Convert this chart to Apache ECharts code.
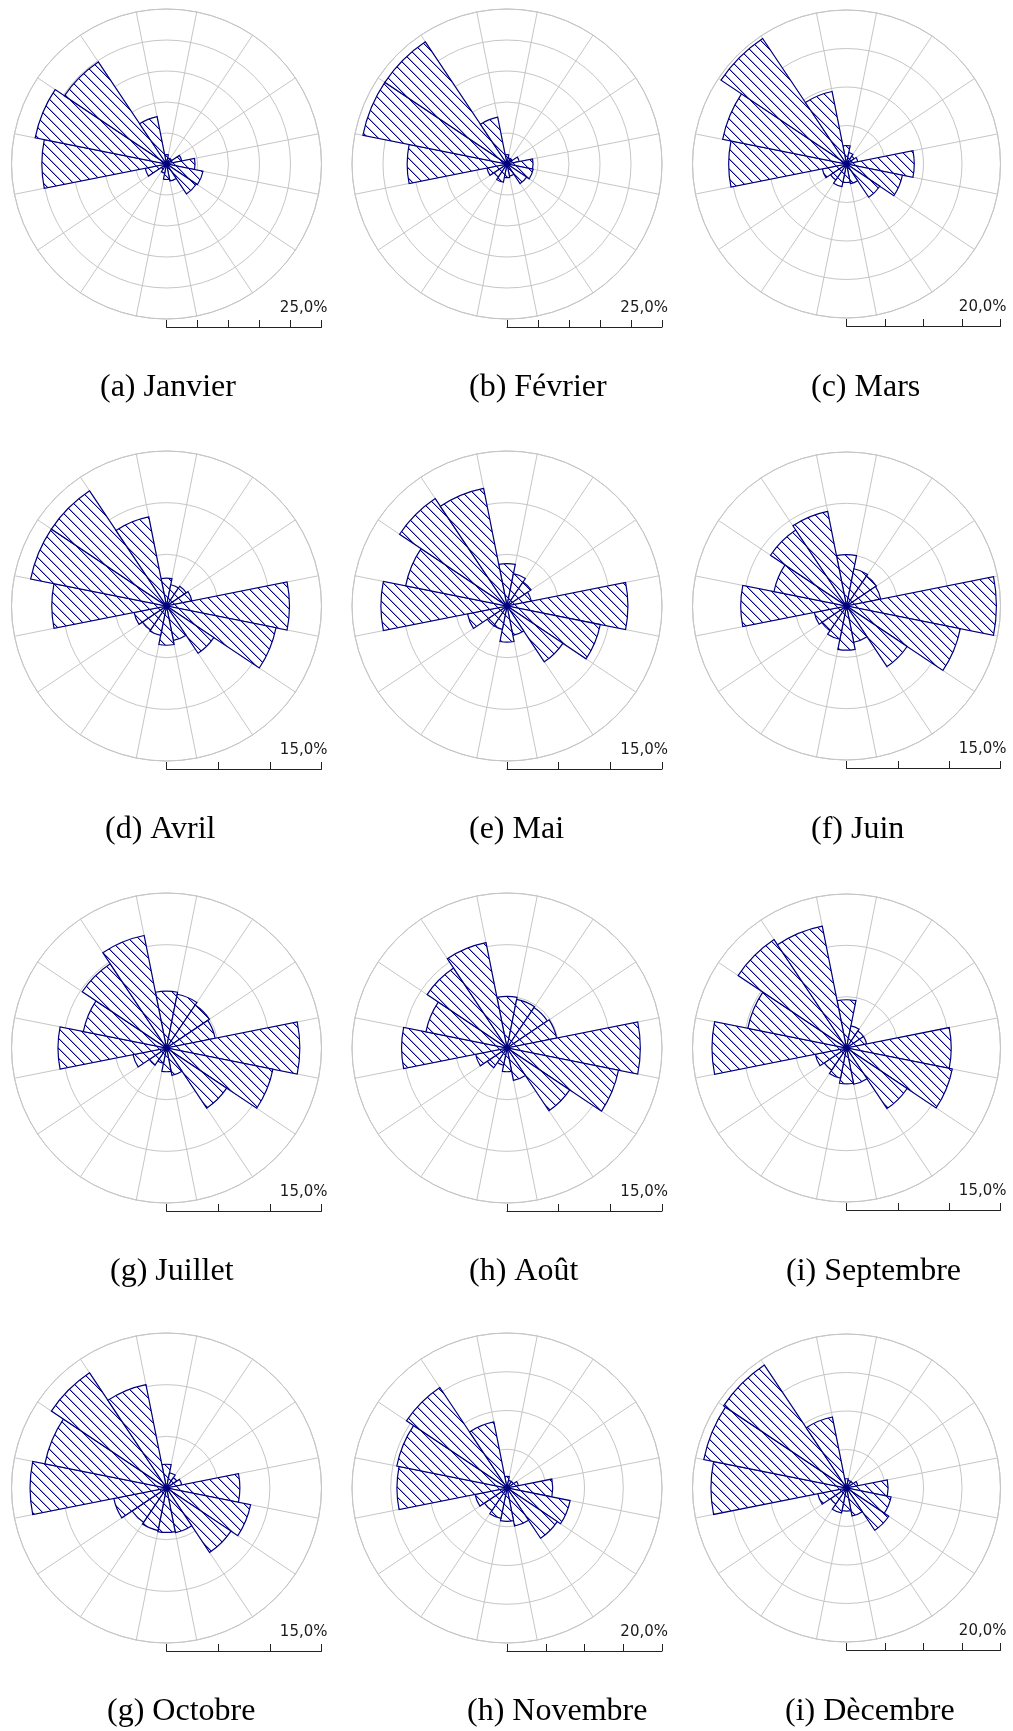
<!DOCTYPE html>
<html><head><meta charset="utf-8">
<script src="https://cdn.jsdelivr.net/npm/echarts@6/dist/echarts.min.js"></script>
<style>html,body{margin:0;padding:0;background:#fff}#c{width:1013px;height:1731px}</style>
</head><body><div id="c"></div>
<script>
// 16 wind directions (sector centres, clockwise from North)
const directions = ['N','NNE','NE','ENE','E','ESE','SE','SSE','S','SSW','SW','WSW','W','WNW','NW','NNW'];

// Frequencies (%) per direction
const janvier   = [1.5, 1.0, 1.0, 2.5, 4.6, 6.0, 5.8, 2.8, 2.5, 1.5, 1.0, 3.5, 20.1, 21.6, 19.8, 7.8];
const fevrier   = [1.5, 1.0, 1.0, 2.0, 4.2, 4.3, 3.8, 2.0, 2.2, 3.0, 2.5, 3.3, 16.1, 23.7, 23.7, 7.7];
const mars      = [2.4, 1.5, 1.2, 1.5, 8.8, 7.4, 5.2, 2.6, 2.4, 3.0, 2.5, 3.2, 15.3, 16.4, 19.6, 9.6];
const avril     = [2.7, 2.1, 2.3, 2.5, 11.9, 10.8, 5.5, 3.4, 3.8, 2.9, 2.8, 3.2, 11.1, 13.4, 13.4, 8.8];
const mai       = [4.1, 3.2, 2.8, 2.4, 11.7, 9.2, 6.5, 2.9, 3.5, 2.3, 2.3, 3.9, 12.2, 10.0, 12.5, 11.6];
const juin      = [5.0, 3.7, 3.5, 3.4, 14.6, 11.3, 7.1, 3.6, 4.3, 3.3, 2.9, 3.2, 10.3, 7.2, 8.9, 9.4];
const juillet   = [5.5, 5.3, 5.0, 4.8, 12.9, 10.5, 7.0, 2.7, 2.3, 1.5, 2.0, 3.3, 10.5, 8.2, 9.8, 11.1];
const aout      = [5.0, 4.8, 4.7, 4.9, 12.9, 11.0, 7.3, 3.2, 2.3, 1.7, 2.3, 3.1, 10.2, 8.0, 9.3, 10.4];
const septembre = [4.7, 2.2, 2.0, 2.0, 10.2, 10.5, 7.1, 3.6, 3.5, 3.0, 2.6, 3.1, 13.1, 9.8, 12.7, 12.1];
const octobre   = [2.3, 1.5, 1.2, 1.5, 7.1, 8.3, 7.5, 4.4, 4.3, 4.2, 4.0, 5.2, 13.2, 12.0, 13.4, 10.2];
const novembre  = [1.5, 1.0, 1.0, 1.5, 5.9, 8.3, 7.8, 5.0, 4.3, 4.0, 3.5, 4.2, 14.2, 14.5, 15.6, 8.7];
const decembre  = [1.2, 1.0, 1.0, 1.5, 5.4, 5.9, 6.6, 3.7, 3.0, 3.3, 2.5, 3.8, 17.6, 18.9, 19.2, 9.4];

const monthData = [janvier, fevrier, mars, avril, mai, juin, juillet, aout, septembre, octobre, novembre, decembre];
const captions = ['(a) Janvier','(b) Février','(c) Mars','(d) Avril','(e) Mai','(f) Juin',
                  '(g) Juillet','(h) Août','(i) Septembre','(g) Octobre','(h) Novembre','(i) Dècembre'];
const scaleMax = [25, 25, 20, 15, 15, 15, 15, 15, 15, 15, 20, 20];
const scaleLabels = ['25,0%','25,0%','20,0%','15,0%','15,0%','15,0%','15,0%','15,0%','15,0%','15,0%','20,0%','20,0%'];
const ringStep = 5;

// layout
const colX = [166.5, 507, 846.5];
const rowY = [164, 606, 1048, 1488];
const colR = [155, 155, 154];
const captionLeft = [100, 469, 811, 105, 469, 811, 110, 469, 786, 107, 467, 785];

const NAVY = '#000080';
const GRID = '#c6c6c6';

function hatchTile() {
  const n = 10;
  const c = document.createElement('canvas');
  c.width = n; c.height = n;
  const g = c.getContext('2d');
  g.fillStyle = '#ffffff';
  g.fillRect(0, 0, n, n);
  for (let i = 0; i < n; i++) {
    g.fillStyle = NAVY;
    g.fillRect(i, i, 1, 1);
    g.fillStyle = 'rgba(0,0,128,0.35)';
    g.fillRect((i + 1) % n, i, 1, 1);
  }
  return c;
}
const tile = hatchTile();

const polar = [], angleAxis = [], radiusAxis = [], series = [], grid = [], xAxis = [], yAxis = [], title = [];

monthData.forEach((vals, i) => {
  const col = i % 3, row = Math.floor(i / 3);
  const cx = colX[col], cy = rowY[row], R = colR[col];
  polar.push({ center: [cx, cy], radius: R });
  angleAxis.push({
    polarIndex: i, type: 'category', data: directions, startAngle: 101.25, clockwise: true,
    boundaryGap: true,
    axisLine: { show: true, lineStyle: { color: GRID, width: 1 } },
    axisTick: { show: false }, axisLabel: { show: false },
    splitLine: { show: true, lineStyle: { color: GRID, width: 1 } }
  });
  radiusAxis.push({
    polarIndex: i, type: 'value', min: 0, max: scaleMax[i], interval: ringStep,
    axisLine: { show: false }, axisTick: { show: false }, axisLabel: { show: false },
    splitLine: { show: true, lineStyle: { color: GRID, width: 1 } }
  });
  series.push({
    type: 'bar', coordinateSystem: 'polar', polarIndex: i, data: vals,
    barCategoryGap: '0%', silent: true,
    itemStyle: { color: { image: tile, repeat: 'repeat' }, borderColor: NAVY, borderWidth: 1.2 }
  });
  grid.push({ left: cx, top: cy + R - 2, width: R, height: 10, containLabel: false });
  xAxis.push({
    gridIndex: i, type: 'value', min: 0, max: scaleMax[i], interval: ringStep, position: 'bottom',
    axisLine: { show: true, onZero: false, lineStyle: { color: '#222', width: 1 } },
    axisTick: { show: true, inside: true, length: 7, lineStyle: { color: '#222', width: 1 } },
    axisLabel: { show: false }, splitLine: { show: false },
    name: scaleLabels[i], nameLocation: 'end', nameGap: 6,
    nameTextStyle: { fontFamily: 'DejaVu Sans', fontSize: 15, color: '#1a1a1a', align: 'right', verticalAlign: 'bottom', padding: [0, 0, 11, 0] }
  });
  yAxis.push({ gridIndex: i, type: 'value', show: false, min: 0, max: 1 });
  title.push({
    text: captions[i], left: captionLeft[i], top: cy + 208, padding: 0,
    textStyle: { fontFamily: 'Liberation Serif', fontSize: 32, fontWeight: 'normal', color: '#000' }
  });
});

const chart = echarts.init(document.getElementById('c'), null, { renderer: 'canvas' });
chart.setOption({
  animation: false, backgroundColor: '#ffffff',
  title, polar, angleAxis, radiusAxis, grid, xAxis, yAxis, series
});
</script></body></html>
